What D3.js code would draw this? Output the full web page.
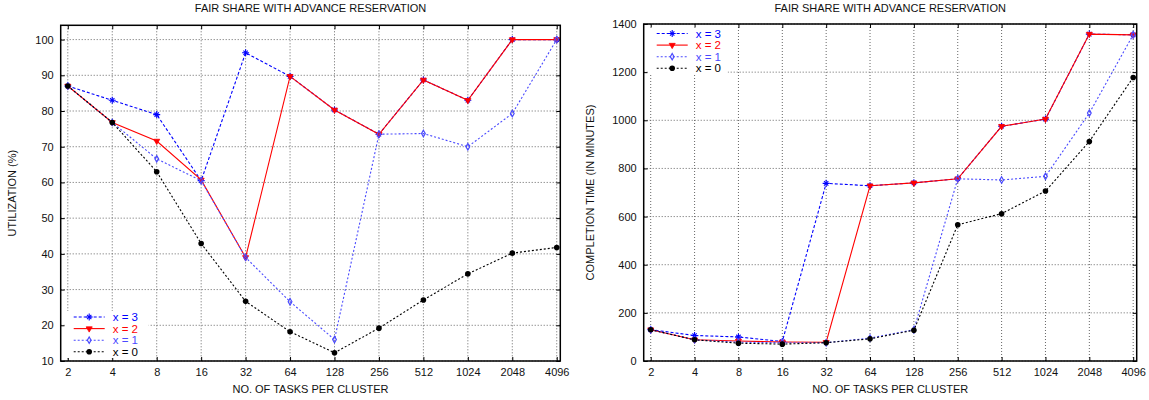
<!DOCTYPE html>
<html>
<head>
<meta charset="utf-8">
<script src="https://cdn.jsdelivr.net/npm/d3@7"></script>
<style>
  body { margin: 0; background: #fff; }
  text { font-family: "Liberation Sans", Arial, Helvetica, sans-serif; }
</style>
</head>
<body>
<div id="chart"></div>
<script>
// x categories (tasks per cluster)
const tasks = ["2", "4", "8", "16", "32", "64", "128", "256", "512", "1024", "2048", "4096"];
const seriesNames = ["x = 3", "x = 2", "x = 1", "x = 0"];

// utilization (%)
const utilX3 = [87, 83, 79, 60.5, 96.3, 89.7, 80.3, 73.5, 88.7, 83, 100, 100];
const utilX2 = [87, 76.8, 71.6, 60.7, 39, 89.7, 80.3, 73.5, 88.7, 83, 100, 100];
const utilX1 = [87, 76.8, 66.6, 60.5, 39, 26.6, 16, 73.5, 73.7, 70, 79.3, 100];
const utilX0 = [87, 76.8, 63, 42.9, 26.7, 18.2, 12.3, 19.2, 27.1, 34.4, 40.2, 41.8];
const utilTicks = [10, 20, 30, 40, 50, 60, 70, 80, 90, 100];

// completion time (minutes)
const timeX3 = [130, 106, 100, 81, 738, 728, 740, 757, 975, 1005, 1358, 1355];
const timeX2 = [130, 88, 83, 79, 78, 728, 740, 757, 975, 1005, 1358, 1355];
const timeX1 = [130, 88, 78, 76, 76, 95, 130, 757, 752, 767, 1030, 1355];
const timeX0 = [130, 88, 74, 70, 76, 92, 128, 566, 612, 706, 912, 1178];
const timeTicks = [0, 200, 400, 600, 800, 1000, 1200, 1400];

const styles = [
    { color: "#0000ff", dash: "3,2", width: 1.1, marker: "star" },
    { color: "#ff0000", dash: null, width: 1.1, marker: "tri" },
    { color: "#4a4aff", dash: "2,2", width: 1.1, marker: "diamond" },
    { color: "#000000", dash: "2,2", width: 1.1, marker: "circle" }
];

const svg = d3.select("#chart").append("svg")
    .attr("width", 1149)
    .attr("height", 400)
    .style("background", "#fff");

function drawMarker(g, type, x, y, color) {
    if (type === "circle") {
        g.append("circle").attr("cx", x).attr("cy", y).attr("r", 2.8).attr("fill", color);
    } else if (type === "tri") {
        g.append("path")
            .attr("d", d3.symbol(d3.symbolTriangle, 16)())
            .attr("transform", `translate(${x},${y}) rotate(180)`)
            .attr("fill", color).attr("stroke", color).attr("stroke-width", 0.8);
    } else if (type === "diamond") {
        g.append("path")
            .attr("d", d3.symbol(d3.symbolDiamond, 12)())
            .attr("transform", `translate(${x},${y})`)
            .attr("fill", "none").attr("stroke", color).attr("stroke-width", 1.2);
    } else {
        g.append("path")
            .attr("d", d3.symbol(d3.symbolPlus, 18)())
            .attr("transform", `translate(${x},${y})`)
            .attr("fill", "none").attr("stroke", color).attr("stroke-width", 1.1);
        g.append("path")
            .attr("d", d3.symbol(d3.symbolTimes, 14)())
            .attr("transform", `translate(${x},${y})`)
            .attr("fill", "none").attr("stroke", color).attr("stroke-width", 1.1);
    }
}

function drawPanel(p) {
    const g = svg.append("g");
    const x = d3.scaleLinear().domain([-0.16, 11.08]).range([p.left, p.right]);
    const y = d3.scaleLinear().domain(p.yDomain).range([p.bottom, p.top]);

    // grid
    const grid = g.append("g")
        .attr("stroke", "#666")
        .attr("stroke-width", 1)
        .attr("stroke-dasharray", "1,2");
    tasks.forEach((t, i) => {
        grid.append("line")
            .attr("x1", x(i)).attr("x2", x(i))
            .attr("y1", p.top).attr("y2", p.bottom);
    });
    p.ticks.forEach(v => {
        grid.append("line")
            .attr("x1", p.left).attr("x2", p.right)
            .attr("y1", y(v)).attr("y2", y(v));
    });

    // axes with inward ticks and mirrored ticks
    const axB = g.append("g").attr("transform", `translate(0,${p.bottom})`)
        .call(d3.axisBottom(x).tickValues(d3.range(tasks.length)).tickFormat(i => tasks[i]).tickSizeInner(-4).tickSizeOuter(0).tickPadding(7));
    const axT = g.append("g").attr("transform", `translate(0,${p.top})`)
        .call(d3.axisTop(x).tickValues(d3.range(tasks.length)).tickFormat("").tickSizeInner(-4).tickSizeOuter(0));
    const axL = g.append("g").attr("transform", `translate(${p.left},0)`)
        .call(d3.axisLeft(y).tickValues(p.ticks).tickFormat(d3.format("d")).tickSizeInner(-4).tickSizeOuter(0).tickPadding(7));
    const axR = g.append("g").attr("transform", `translate(${p.right},0)`)
        .call(d3.axisRight(y).tickValues(p.ticks).tickFormat("").tickSizeInner(-4).tickSizeOuter(0));
    [axB, axT, axL, axR].forEach(a => {
        a.select(".domain").remove();
        a.selectAll("text").attr("font-size", 11).attr("fill", "#111")
            .attr("font-family", "Liberation Sans, Arial, sans-serif");
        a.selectAll(".tick line").attr("stroke", "#000");
    });

    // legend box (opaque)
    g.append("rect")
        .attr("x", p.left + 4).attr("y", p.legY - 6)
        .attr("width", p.legW).attr("height", 47)
        .attr("fill", "#fff");

    // series
    p.series.forEach((vals, s) => {
        const st = styles[s];
        const line = d3.line().x((d, i) => x(i)).y(d => y(d));
        g.append("path")
            .attr("d", line(vals))
            .attr("fill", "none")
            .attr("stroke", st.color)
            .attr("stroke-width", st.width)
            .attr("stroke-dasharray", st.dash);
        vals.forEach((v, i) => drawMarker(g, st.marker, x(i), y(v), st.color));
    });

    // legend
    seriesNames.forEach((name, s) => {
        const st = styles[s];
        const ly = p.legY + s * 11.6;
        g.append("line")
            .attr("x1", p.left + 13).attr("x2", p.left + 44)
            .attr("y1", ly).attr("y2", ly)
            .attr("stroke", st.color).attr("stroke-width", st.width)
            .attr("stroke-dasharray", st.dash);
        drawMarker(g, st.marker, p.left + 28.5, ly, st.color);
        g.append("text")
            .attr("x", p.left + 52).attr("y", ly + 4)
            .attr("font-size", 11.5)
            .attr("fill", st.color)
            .text(name);
    });

    // frame
    g.append("rect")
        .attr("x", p.left).attr("y", p.top)
        .attr("width", p.right - p.left).attr("height", p.bottom - p.top)
        .attr("fill", "none").attr("stroke", "#000").attr("stroke-width", 1.5);

    const cx = (p.left + p.right) / 2;
    g.append("text").attr("x", cx).attr("y", 12)
        .attr("text-anchor", "middle").attr("font-size", 11).attr("fill", "#111")
        .text("FAIR SHARE WITH ADVANCE RESERVATION");
    g.append("text").attr("x", cx).attr("y", 393)
        .attr("text-anchor", "middle").attr("font-size", 11).attr("fill", "#111")
        .text("NO. OF TASKS PER CLUSTER");
    g.append("text")
        .attr("transform", `translate(${p.yLabelX},${(p.top + p.bottom) / 2}) rotate(-90)`)
        .attr("text-anchor", "middle").attr("dominant-baseline", "middle")
        .attr("font-size", 11).attr("fill", "#111")
        .text(p.yLabel);
}

drawPanel({
    left: 60.7, right: 560.3, top: 25.3, bottom: 361,
    yDomain: [10, 104], ticks: utilTicks,
    series: [utilX3, utilX2, utilX1, utilX0],
    yLabel: "UTILIZATION (%)", yLabelX: 13,
    legY: 317, legW: 84
});

drawPanel({
    left: 643.7, right: 1136.7, top: 24, bottom: 361,
    yDomain: [0, 1400], ticks: timeTicks,
    series: [timeX3, timeX2, timeX1, timeX0],
    yLabel: "COMPLETION TIME (IN MINUTES)", yLabelX: 591,
    legY: 33.5, legW: 80
});
</script>
</body>
</html>
